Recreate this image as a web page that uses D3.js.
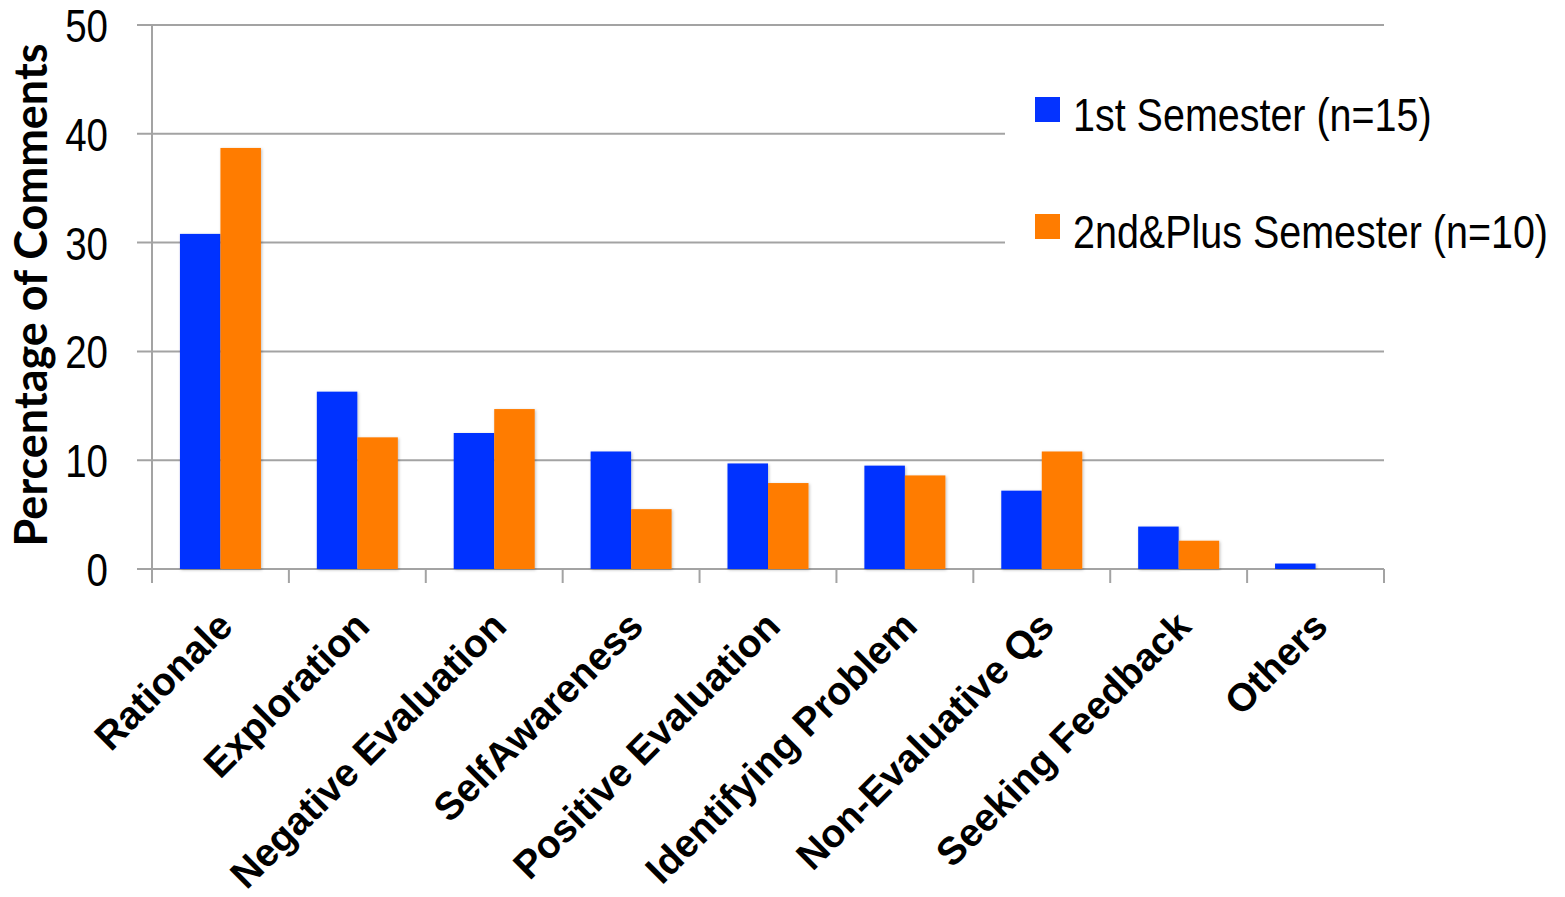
<!DOCTYPE html>
<html>
<head>
<meta charset="utf-8">
<script src="https://cdn.jsdelivr.net/npm/d3@7"></script>
<style>
  html, body { margin: 0; padding: 0; background: #fff; }
  svg { display: block; }
</style>
</head>
<body>
<svg id="chart" width="1565" height="897"></svg>
<script>
const categories = ['Rationale', 'Exploration', 'Negative Evaluation', 'SelfAwareness',
  'Positive Evaluation', 'Identifying Problem', 'Non-Evaluative Qs', 'Seeking Feedback', 'Others'];
const firstSemester = [30.8, 16.3, 12.5, 10.8, 9.7, 9.5, 7.2, 3.9, 0.5];
const secondPlus = [38.7, 12.1, 14.7, 5.5, 7.9, 8.6, 10.8, 2.6, 0];
const seriesNames = ['1st Semester (n=15)', '2nd&Plus Semester (n=10)'];
const seriesColors = ['#0433ff', '#ff7c00'];
const yTicks = [0, 10, 20, 30, 40, 50];

(function () {
  const svg = d3.select('#chart');
  const plotLeft = 152, plotRight = 1384, plotTop = 25, plotBottom = 569;
  const gridColor = '#a3a3a3';
  // no narrow font installed: squeeze Liberation Sans horizontally
  const narrow = 0.84;

  const x = d3.scaleBand().domain(categories).range([plotLeft, plotRight]).paddingInner(0).paddingOuter(0);
  const y = d3.scaleLinear().domain([0, 50]).range([plotBottom, plotTop]);
  const barW = 40.5;

  // gridlines
  svg.append('g')
    .selectAll('line')
    .data(yTicks)
    .join('line')
    .attr('x1', plotLeft - 15)
    .attr('x2', plotRight)
    .attr('y1', (d) => y(d))
    .attr('y2', (d) => y(d))
    .attr('stroke', gridColor)
    .attr('stroke-width', 2);

  // y axis line
  svg.append('line')
    .attr('x1', plotLeft).attr('x2', plotLeft)
    .attr('y1', plotTop).attr('y2', plotBottom + 14)
    .attr('stroke', gridColor).attr('stroke-width', 2);

  // x ticks at band edges
  const edges = categories.map((c) => x(c)).concat([plotRight]);
  svg.append('g')
    .selectAll('line')
    .data(edges.slice(1))
    .join('line')
    .attr('x1', (d) => d).attr('x2', (d) => d)
    .attr('y1', plotBottom).attr('y2', plotBottom + 14)
    .attr('stroke', gridColor).attr('stroke-width', 2);

  // bars
  const defs = svg.append('defs');
  const filter = defs.append('filter').attr('id', 'shadow')
    .attr('x', '-20%').attr('y', '-5%').attr('width', '140%').attr('height', '110%');
  filter.append('feDropShadow').attr('dx', 1).attr('dy', 1).attr('stdDeviation', 1.5)
    .attr('flood-color', '#000').attr('flood-opacity', 0.25);

  const barData = [];
  categories.forEach((c, i) => {
    barData.push({ cat: c, s: 0, v: firstSemester[i] });
    barData.push({ cat: c, s: 1, v: secondPlus[i] });
  });

  svg.append('g')
    .selectAll('rect')
    .data(barData.filter((d) => d.v > 0))
    .join('rect')
    .attr('x', (d) => x(d.cat) + x.bandwidth() / 2 - barW + d.s * barW)
    .attr('y', (d) => y(d.v))
    .attr('width', barW)
    .attr('height', (d) => y(0) - y(d.v))
    .attr('fill', (d) => seriesColors[d.s])
    .attr('filter', 'url(#shadow)');

  // y tick labels
  svg.append('g')
    .selectAll('text')
    .data(yTicks)
    .join('text')
    .attr('transform', (d) => `translate(108,${y(d)}) scale(0.82,1)`)
    .attr('dy', '0.36em')
    .attr('text-anchor', 'end')
    .attr('font-family', '"Liberation Sans", Arial, sans-serif')
    .attr('font-size', 47)
    .attr('fill', '#000')
    .text((d) => d);

  // y title
  svg.append('text')
    .attr('transform', 'translate(47,295) rotate(-90)')
    .attr('text-anchor', 'middle')
    .attr('font-family', 'Lato, "Open Sans", sans-serif')
    .attr('font-weight', 'bold')
    .attr('font-size', 45)
    .attr('fill', '#000')
    .text('Percentage of Comments');

  // x labels
  svg.append('g')
    .selectAll('text')
    .data(categories)
    .join('text')
    .attr('transform', (d) => `translate(${x(d) + x.bandwidth() / 2 - 5},609) rotate(-45)`)
    .attr('text-anchor', 'end')
    .attr('dy', '0.7em')
    .attr('font-family', '"Liberation Sans", Arial, sans-serif')
    .attr('font-weight', 'bold')
    .attr('font-size', 39)
    .attr('fill', '#000')
    .text((d) => d);

  // legend
  const legend = svg.append('g');
  legend.append('rect').attr('x', 1005).attr('y', 80).attr('width', 560).attr('height', 200).attr('fill', '#fff');
  const legendY = [110, 227];
  seriesNames.forEach((name, i) => {
    legend.append('rect')
      .attr('x', 1035).attr('y', legendY[i] - 13)
      .attr('width', 25).attr('height', 25)
      .attr('fill', seriesColors[i]);
    legend.append('text')
      .attr('transform', `translate(1073,${legendY[i] + 21}) scale(${narrow},1)`)
      .attr('font-family', '"Liberation Sans", Arial, sans-serif')
      .attr('font-size', 47)
      .attr('fill', '#000')
      .text(name);
  });
})();
</script>
</body>
</html>
